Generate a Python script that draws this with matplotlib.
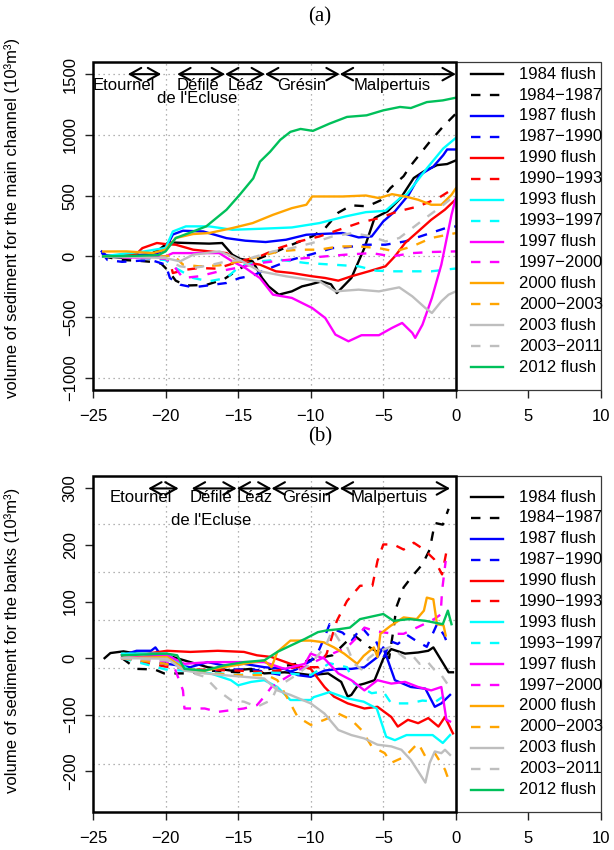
import matplotlib
matplotlib.use("Agg")
import matplotlib.pyplot as plt
from matplotlib.patches import Rectangle
from matplotlib.lines import Line2D
import matplotlib.transforms as mtrans

plt.rcParams['font.family'] = ['Liberation Sans', 'DejaVu Sans']
plt.rcParams['font.size'] = 12

# ---------------- Panel (a): main channel ----------------
A_84F_X = [-24.3,-23,-22,-21,-20.4,-19.8,-18.5,-17,-16.1,-15.9,-15.4,-14.9,-14,-13.35,-12.9,-12.2,-11.3,-10.6,-10.1,-9.25,-8.6,-8.2,-7.2,-6.3,-5.6,-4.7,-3.8,-2.9,-2.2,-1.3,-0.6,0]
A_84F_Y = [0,-10,0,20,60,115,110,105,110,82,14,-19,-41,-178,-247,-315,-288,-247,-233,-206,-230,-302,-178,69,316,371,480,645,700,751,760,790]
A_8487_X = [-24.3,-23,-22,-21,-20.3,-19.8,-19.3,-18.6,-17.2,-16,-15,-14,-13.2,-12.6,-11.3,-9.9,-9,-8.1,-7.2,-6.1,-5.2,-4.5,-3.6,-3.17,-1.8,-0.9,0]
A_8487_Y = [0,-30,-35,-45,-60,-120,-200,-240,-235,-190,-110,-40,0,27,96,164,233,360,420,412,460,563,660,738,943,1066,1175]
A_87F_X = [-24.4,-24.1,-23,-22,-21,-20.5,-20,-19.5,-18.8,-17.4,-15.8,-14.5,-13.1,-11.7,-10.3,-9,-7.8,-6.7,-5.8,-5,-4.2,-3.25,-2.48,-1.56,-0.87,-0.6,0]
A_87F_Y = [40,10,0,10,20,30,60,180,211,205,150,129,118,137,178,186,192,156,164,288,370,507,670,738,833,880,880]
A_8790_X = [-24.4,-24,-23,-21,-20,-19.7,-19,-18.1,-17,-15.8,-14.9,-14,-13.1,-12.2,-11.3,-9.9,-8.5,-7.4,-6.2,-4.85,-3.5,-2.1,-0.7,0]
A_8790_Y = [30,-30,-45,-30,-68,-178,-233,-255,-238,-219,-178,-159,-110,-68,-27,19,68,77,96,96,123,178,233,247]
A_90F_X = [-24.3,-23,-22,-21.6,-20.6,-20,-19.3,-18.1,-17,-15.8,-14.9,-13.5,-12.4,-11.3,-9.9,-9,-8.1,-7.2,-6,-4.85,-4.2,-3.5,-2.6,-1.7,-0.76,0]
A_90F_Y = [0,10,20,68,110,101,96,55,41,27,-41,-68,-123,-137,-164,-178,-200,-164,-123,-82,0,110,205,301,384,470]
A_9093_X = [-24.3,-23,-21,-20,-19.7,-19.5,-18.6,-17.7,-16.5,-15.6,-14.9,-13.5,-12.2,-10.8,-9.4,-8.05,-6.7,-5.3,-4,-2.6,-1.2,-0.3,0]
A_9093_Y = [0,-10,-15,-20,-41,-137,-110,-96,-101,-68,-41,0,68,123,164,219,274,315,370,411,480,548,570]
A_93F_X = [-24.3,-23,-21.5,-20.5,-20,-19.5,-18.6,-17,-15.4,-13.5,-11.3,-9.4,-7.6,-6.2,-4.85,-3.7,-3.4,-2,-0.87,0]
A_93F_Y = [0,20,40,60,68,205,247,247,219,227,238,274,329,364,375,493,508,724,888,975]
A_9397_X = [-24.3,-22,-20,-19.3,-18.1,-17,-15.8,-14.9,-13.5,-12.2,-10.3,-8.5,-6.7,-5.5,-4.4,-3,-1.7,-0.75,0]
A_9397_Y = [0,-10,-30,-96,-178,-205,-178,-82,-41,-27,-55,-68,-82,-118,-123,-123,-123,-110,-100]
A_97F_X = [-24.3,-22,-20,-19.5,-18.1,-16.3,-15.4,-14.5,-13.5,-12.6,-11.3,-9.9,-9,-8.3,-7.4,-6.5,-5.3,-4.4,-3.7,-3,-2.8,-2.3,-1.65,-1,-0.3,0]
A_97F_Y = [0,-10,0,27,27,27,-41,-96,-178,-315,-342,-425,-507,-644,-699,-649,-649,-589,-548,-630,-671,-562,-342,-68,342,480]
A_9700_X = [-24.3,-22,-20,-19.5,-18.8,-17.7,-16.3,-14.9,-13.5,-12.2,-10.8,-9,-7.6,-5.8,-4.4,-3,-1.7,0]
A_9700_Y = [0,-10,-20,-68,-178,-164,-123,-90,-55,-36,-19,0,14,27,0,27,36,41]
A_00F_X = [-24.3,-22.7,-20.9,-20,-19.3,-18.1,-17,-15.4,-14,-12.6,-11.3,-10.3,-9.9,-7.8,-6.2,-5.3,-4.4,-3.5,-2.6,-1.7,-1,-0.3,0]
A_00F_Y = [40,41,27,55,151,184,192,233,274,342,397,425,493,493,501,480,512,493,466,425,425,507,560]
A_0003_X = [-24.3,-22,-20,-19.5,-18.8,-17.7,-16.3,-14.9,-13.5,-12.2,-10.8,-9.4,-8.05,-6.7,-5.3,-4.2,-3,-1.7,0]
A_0003_Y = [0,-5,0,14,-68,-82,-74,-41,0,41,55,55,82,82,68,41,82,151,192]
A_03F_X = [-24.3,-22,-20,-19,-18.1,-16.3,-15.4,-14.5,-13.5,-11.7,-9.4,-8.3,-6.7,-5.3,-3.9,-3,-2.1,-1.65,-1,-0.5,0]
A_03F_Y = [0,-5,-14,-41,14,41,0,-55,-123,-164,-205,-288,-274,-288,-255,-329,-425,-466,-370,-315,-288]
A_0311_X = [-24.3,-22,-20,-19.7,-19,-18.1,-17,-15.8,-14.5,-12.6,-11.3,-9.9,-8.5,-7.1,-5.8,-4.85,-3.9,-3,-2.1,-1,0]
A_0311_Y = [0,-5,-10,-41,-82,-96,-74,-41,-27,41,68,110,164,192,164,123,151,233,315,411,507]
A_12F_X = [-24.3,-22,-20.5,-20,-19.3,-18.1,-17.2,-15.8,-14.9,-13.96,-13.5,-12.8,-12.1,-11.4,-10.7,-9.85,-8.7,-7.5,-6.15,-5,-3.85,-3.1,-2,-0.9,0]
A_12F_Y = [0,5,10,41,151,205,247,384,506,642,779,861,959,1025,1049,1033,1093,1148,1161,1202,1230,1221,1270,1284,1306]

# ---------------- Panel (b): banks ----------------
B_84F_X = [-24.2,-23.8,-22.9,-22,-19.9,-18.7,-17.1,-15.5,-14.1,-13.2,-11.8,-10.9,-10,-8.8,-7.9,-7.45,-7.2,-6.75,-6.3,-5.6,-5,-4.45,-3.5,-2.6,-1.9,-1.55,-1,-0.5,-0.2]
B_84F_Y = [0,9,12,8,5,-4,-16,-22,-19,-27,-25,-27,-30,-27,-42,-68,-65,-48,-45,-39,-1,16,8,10,13,19,-4,-25,-25]
B_8487_X = [-23,-22,-20.75,-20.1,-18.7,-17,-15,-13,-11,-9.5,-8.5,-7.5,-7,-6,-5,-4.6,-4.3,-4.1,-3.6,-3,-2.3,-1.8,-1.45,-0.9,-0.5]
B_8487_Y = [0,-19,-20,-27,-27,-22,-25,-20,-10,0,5,30,40,20,5,0,50,90,125,145,166,192,239,236,264]
B_87F_X = [-23,-22,-21,-20.7,-19.9,-18.3,-17.1,-16,-14.6,-13.2,-11.8,-10.9,-10,-9.05,-8.1,-7.2,-6.3,-5.4,-5,-4.2,-3.1,-2.1,-1.45,-1,-0.4]
B_87F_Y = [5,13,13,19,-10,-16,-7,-13,-10,-16,-19,-30,-33,-22,-19,-19,-16,2,19,-39,-51,-54,-86,-80,-65]
B_8790_X = [-23,-20,-18,-16,-14,-12,-11,-10,-9.5,-9,-8.7,-8.3,-7.8,-7.2,-6.5,-6,-5.5,-5,-4.5,-4,-3.3,-2.7,-2,-1.3,-0.8,-0.5]
B_8790_Y = [0,-10,-25,-20,-20,-30,-20,-5,10,40,60,50,45,30,55,40,30,0,30,25,40,30,20,60,40,20]
B_90F_X = [-23,-21.3,-19.9,-18.3,-16.4,-14.6,-13.7,-12.7,-11.4,-10,-9.05,-8.4,-7.45,-6.3,-5.4,-4.45,-4,-3.3,-2.6,-1.9,-1.2,-0.75,-0.2]
B_90F_Y = [5,8,13,11,13,11,5,2,-10,-19,-51,-68,-80,-89,-86,-104,-121,-109,-115,-106,-121,-104,-133]
B_9093_X = [-23,-20,-18,-15,-13,-11,-9.5,-8.9,-8.2,-7.5,-6.6,-5.75,-5.4,-5,-4.3,-3.6,-2.9,-2.2,-1.5,-0.95,-0.6]
B_9093_Y = [0,-15,-20,-22,-25,-16,-16,8,66,101,128,128,172,201,201,192,204,192,175,148,195]
B_93F_X = [-23,-21,-19.9,-19,-18.3,-16.9,-15.5,-15,-14.1,-13.2,-12.3,-11.4,-10,-9.8,-8.7,-7.5,-6.35,-5.45,-4.8,-4.2,-3.4,-2.5,-1.6,-0.9,-0.4]
B_93F_Y = [8,8,8,-10,-22,-27,-39,-48,-42,-39,-51,-74,-74,-69,-60,-71,-77,-89,-139,-145,-136,-136,-136,-150,-136]
B_9397_X = [-23,-20,-17,-15,-13,-10,-8.7,-7.5,-7,-5.8,-5,-4.45,-4.1,-3.2,-2.3,-1.4,-1,-0.5]
B_9397_Y = [0,-20,-25,-30,-25,-30,-9,-16,-45,-62,-59,-80,-80,-80,-75,-77,-70,-65]
B_97F_X = [-23,-19.9,-18.7,-16.9,-14.6,-13.2,-11.8,-10.4,-10,-9.05,-8.1,-7.2,-6.3,-5.4,-4.45,-3.5,-2.6,-1.7,-1,-0.65,-0.4]
B_97F_Y = [0,5,-10,-7,-7,-7,-19,-10,8,-1,-27,-39,-57,-39,-45,-42,-51,-57,-51,-109,-112]
B_9700_X = [-23,-20,-19.4,-18.8,-18.7,-17.3,-16.4,-15.5,-14.6,-13.7,-13.2,-12.7,-11.8,-10.9,-10,-9.05,-7.5,-6.8,-6.3,-5.6,-4.3,-3.6,-2.2,-1.5,-1.05,-0.95,-0.7]
B_9700_Y = [0,-5,-16,-57,-89,-89,-95,-92,-89,-83,-68,-51,-36,-22,-10,2,19,37,54,48,43,43,60,69,77,119,172]
B_00F_X = [-23,-19.9,-18.7,-17.3,-16,-14.6,-13.2,-12.7,-12.3,-11.8,-11.4,-10.4,-10,-9.1,-8.4,-7.7,-6.8,-6.35,-5.65,-5.4,-5.2,-4.5,-3.6,-2.7,-2.2,-2,-1.55,-1.3,-0.85,-0.7]
B_00F_Y = [0,2,-19,-22,-16,-10,-4,-16,11,22,31,31,31,28,19,8,-10,4,19,2,43,57,72,69,84,107,104,60,58,40]
B_0003_X = [-23,-20,-18,-15,-13,-12.3,-11.4,-10.9,-10,-9.05,-8.1,-7.2,-6.5,-5.8,-4.9,-4.45,-3.5,-2.6,-2.1,-1.45,-0.75,-0.5]
B_0003_Y = [0,-10,-25,-30,-30,-39,-80,-104,-118,-109,-98,-109,-127,-156,-168,-185,-174,-150,-174,-168,-197,-215]
B_03F_X = [-23,-19.9,-18.7,-17.3,-16,-14.6,-13.2,-12.3,-11.4,-10,-9.05,-8.1,-7.2,-6.3,-5.4,-4.45,-3.75,-3.1,-2.6,-2.1,-1.8,-1.45,-1,-0.75,-0.4]
B_03F_Y = [0,-1,-22,-27,-30,-33,-36,-57,-65,-80,-98,-127,-136,-142,-153,-156,-162,-180,-200,-220,-185,-165,-168,-162,-171]
B_0311_X = [-23,-19.9,-18.7,-17.3,-16.4,-15.5,-14.6,-13.7,-12.7,-12.3,-11,-10,-9,-8.5,-8,-7.5,-7,-6.5,-6,-5.5,-5,-4.5,-4,-3.5,-3,-2.5,-2,-1.5,-1,-0.6]
B_0311_Y = [0,-4,-22,-33,-57,-74,-77,-86,-74,-51,-30,-10,20,50,30,20,-10,-20,0,10,15,20,10,0,5,-10,-5,-20,-30,-45]
B_12F_X = [-23,-19.9,-19.2,-18.7,-17.3,-16,-14.6,-13.2,-12.3,-11.4,-10.4,-9.5,-8.9,-8.1,-7.3,-6.6,-5,-4.3,-3.2,-2.1,-0.9,-0.55,-0.3]
B_12F_Y = [5,8,5,-19,-22,-13,-7,-4,11,22,34,46,49,51,54,69,78,66,69,66,60,84,60]

LABELS = ['1984 flush', '1984\u22121987', '1987 flush', '1987\u22121990', '1990 flush',
          '1990\u22121993', '1993 flush', '1993\u22121997', '1997 flush', '1997\u22122000',
          '2000 flush', '2000\u22122003', '2003 flush', '2003\u22122011', '2012 flush']
COLORS = ['black', 'black', '#0000FF', '#0000FF', '#FF0000', '#FF0000', '#00FFFF', '#00FFFF',
          '#FF00FF', '#FF00FF', '#FFA500', '#FFA500', '#BEBEBE', '#BEBEBE', '#00C05A']
STYLES = ['-', '--'] * 7 + ['-']

A_SERIES = [(A_84F_X, A_84F_Y), (A_8487_X, A_8487_Y), (A_87F_X, A_87F_Y), (A_8790_X, A_8790_Y),
            (A_90F_X, A_90F_Y), (A_9093_X, A_9093_Y), (A_93F_X, A_93F_Y), (A_9397_X, A_9397_Y),
            (A_97F_X, A_97F_Y), (A_9700_X, A_9700_Y), (A_00F_X, A_00F_Y), (A_0003_X, A_0003_Y),
            (A_03F_X, A_03F_Y), (A_0311_X, A_0311_Y), (A_12F_X, A_12F_Y)]
B_SERIES = [(B_84F_X, B_84F_Y), (B_8487_X, B_8487_Y), (B_87F_X, B_87F_Y), (B_8790_X, B_8790_Y),
            (B_90F_X, B_90F_Y), (B_9093_X, B_9093_Y), (B_93F_X, B_93F_Y), (B_9397_X, B_9397_Y),
            (B_97F_X, B_97F_Y), (B_9700_X, B_9700_Y), (B_00F_X, B_00F_Y), (B_0003_X, B_0003_Y),
            (B_03F_X, B_03F_Y), (B_0311_X, B_0311_Y), (B_12F_X, B_12F_Y)]

REACHES = ['Etournel', 'D\u00e9fil\u00e9', 'L\u00e9az', 'Gr\u00e9sin', 'Malpertuis']
A_REACH_BOUNDS = [(-22.6, -20.3), (-19.2, -15.9), (-15.9, -13.15), (-13.15, -8.0), (-8.0, 0.0)]
A_REACH_TEXT_X = [-22.85, -17.8, -14.45, -10.63, -4.41]
B_REACH_BOUNDS = [(-21.2, -19.1), (-18.2, -15.1), (-15.1, -12.7), (-12.7, -8.0), (-8.0, -0.4)]
B_REACH_TEXT_X = [-21.7, -16.85, -13.85, -10.28, -4.6]

XTICKS = [-25, -20, -15, -10, -5, 0, 5, 10]
A_YTICKS = [-1000, -500, 0, 500, 1000, 1500]
B_YTICKS = [-200, -100, 0, 100, 200, 300]

fig = plt.figure(figsize=(6.14, 8.5), dpi=100)
axA = fig.add_axes([93/614, 1-390/850, 508/614, 328/850])
axB = fig.add_axes([93/614, 1-812/850, 508/614, 336/850])

GRIDC = '#9a9a9a'

def setup(ax, ylim, yticks, ygrid, series, bounds, textx, arrow_y, text_y, text2_y, ylabel, lab_y):
    ax.set_xlim(-25, 10)
    ax.set_ylim(*ylim)
    for s in ax.spines.values():
        s.set_visible(False)
    for gx in [-20, -15, -10, -5, 5]:
        ax.axvline(gx, color=GRIDC, ls=(0, (1, 3)), lw=0.9, zorder=1)
    for gy in ygrid:
        ax.axhline(gy, color=GRIDC, ls=(0, (1, 3)), lw=0.9, zorder=1)
    for (xs, ys), c, st in zip(series, COLORS, STYLES):
        if st == '--':
            ax.plot(xs, ys, color=c, lw=1.7, ls=(0, (4, 4)), zorder=3)
        else:
            ax.plot(xs, ys, color=c, lw=1.7, ls='-', zorder=3)
    # legend box
    ax.add_patch(Rectangle((0, ylim[0]), 10, ylim[1]-ylim[0], facecolor='white',
                           edgecolor='#3a3a3a', lw=0.9, zorder=4, clip_on=False))
    # data box
    ax.add_patch(Rectangle((-25, ylim[0]), 25, ylim[1]-ylim[0], facecolor='none',
                           edgecolor='black', lw=1.8, zorder=6, clip_on=False))
    trans = mtrans.blended_transform_factory(ax.transData, ax.transAxes)
    y0 = 0.963 if ax is axA else 0.9375
    dy = 0.0638 if ax is axA else 0.0622
    for i, (lab, c, st) in enumerate(zip(LABELS, COLORS, STYLES)):
        yy = y0 - i*dy
        ln = Line2D([1.03, 3.23], [yy, yy], color=c, lw=1.7,
                    ls=(0, (4, 4)) if st == '--' else '-', transform=trans, zorder=5)
        ax.add_line(ln)
        ax.text(4.33, yy, lab, transform=trans, va='center', ha='left', fontsize=12, zorder=5)
    # reach arrows
    for (xa, xb) in bounds:
        ax.annotate('', xy=(xb, arrow_y), xytext=(xa, arrow_y),
                    arrowprops=dict(arrowstyle='<->,head_length=0.45,head_width=0.25',
                                    lw=1.5, color='black', shrinkA=0, shrinkB=0,
                                    mutation_scale=18), zorder=7)
    for name, tx in zip(REACHES, textx):
        t = ax.text(tx, text_y, name, ha='center', va='center', fontsize=12, zorder=7)
        t.set_clip_on(True)
    ax.text(textx[1], text2_y, "de l'Ecluse", ha='center', va='center', fontsize=12, zorder=7)
    ax.set_xticks(XTICKS)
    ax.set_xticklabels([f'{v}'.replace('-', '\u2212') for v in XTICKS])
    ax.set_yticks(yticks)
    ax.set_yticklabels([f'{v}'.replace('-', '\u2212') for v in yticks], rotation=90, va='center')
    ax.tick_params(axis='both', direction='out', length=6, width=1, labelsize=12, color='#222222')
    ax.tick_params(axis='x', pad=8)
    ax.tick_params(axis='y', pad=5)
    ax.set_ylabel(ylabel, fontsize=12)
    ax.yaxis.set_label_coords(-0.144, lab_y)

setup(axA, (-1100, 1600), A_YTICKS, A_YTICKS, A_SERIES, A_REACH_BOUNDS, A_REACH_TEXT_X,
      1500, 1407, 1297, 'volume of sediment for the main channel (10\u00b3m\u00b3)', 0.524)
setup(axB, (-272, 322), B_YTICKS, [-187.1, -102.3, -17.4, 67.4, 152.3, 237.1], B_SERIES,
      B_REACH_BOUNDS, B_REACH_TEXT_X, 300, 284, 243, 'volume of sediment for the banks (10\u00b3m\u00b3)', 0.51)

fig.text(320/614, 1-17/850, '(a)', ha='center', va='center', fontsize=15, family='Liberation Serif')
fig.text(320/614, 1-437/850, '(b)', ha='center', va='center', fontsize=15, family='Liberation Serif')

fig.savefig('out.png', dpi=100)
